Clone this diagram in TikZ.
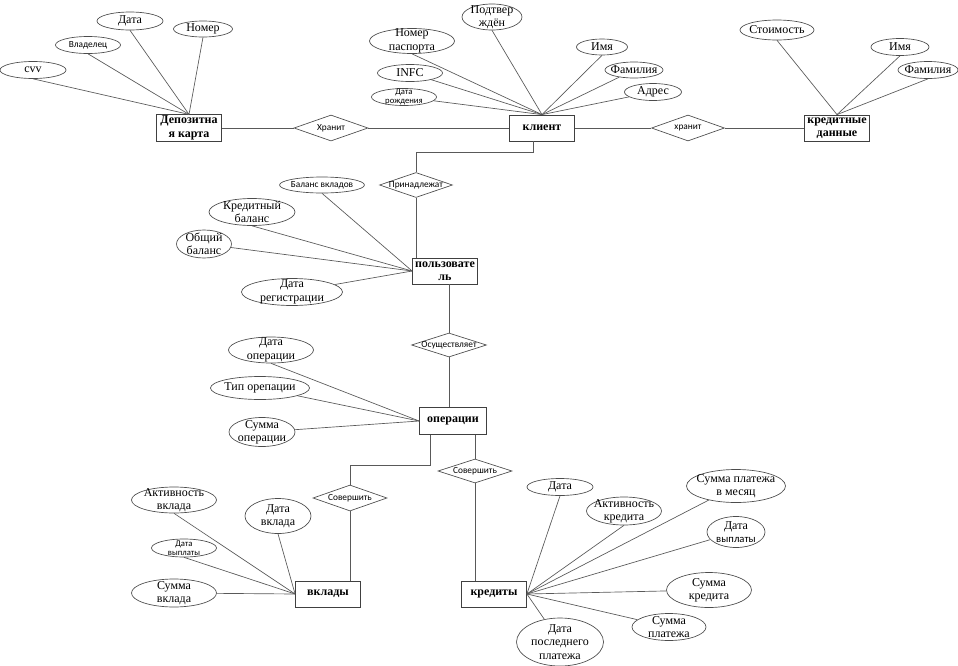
\documentclass[tikz,border=0pt]{standalone}
\usepackage{fontspec}
\setmainfont{Liberation Serif}
\newfontfamily\calfont{Carlito}
\usetikzlibrary{shapes.geometric}
\tikzset{
  ent/.style={draw=black!75, line width=0.6pt, rectangle, minimum width=65*0.75pt, minimum height=26*0.75pt, inner sep=1pt, font=\fontsize{9}{10}\selectfont\bfseries, align=center},
  attrshape/.style={draw=black!70, line width=0.5pt, ellipse, inner sep=0pt},
  relshape/.style={draw=black!70, line width=0.5pt, diamond, inner sep=0pt},
  txt/.style={font=\fontsize{9}{10}\selectfont, align=center, inner sep=0pt},
  stxt/.style={font=\calfont\fontsize{7}{7.5}\selectfont, align=center, inner sep=0pt},
  sstxt/.style={font=\calfont\fontsize{6.5}{7}\selectfont, align=center, inner sep=0pt},
  ln/.style={draw=black!65, line width=0.5pt},
}
\newcommand\attr[7]{%
  \node[attrshape, minimum width=#4*0.75pt, minimum height=#5*0.75pt] (#1) at (#2,#3) {};
  \node[#7] (#1t) at (#1) {#6};}
\newcommand\rel[6]{%
  \node[relshape, minimum width=#4*0.75pt, minimum height=#5*0.75pt] (#1) at (#2,#3) {};
  \node[stxt] (#1t) at (#1) {#6};}
\begin{document}
\begin{tikzpicture}[x=0.75pt,y=-0.75pt]
\path[use as bounding box, fill=white] (0,0) rectangle (958,665);

% entities
\node[ent] (dk) at (189,128) {Депозитна\\я карта};
\node[ent] (kl) at (542,128) {клиент};
\node[ent] (kd) at (837,128) {кредитные\\данные};
\node[ent] (pol) at (445,271) {пользовате\\ль};
\node[ent, minimum width=67*0.75pt, minimum height=27*0.75pt] (op) at (453,421) {операции};
\node[ent] (vk) at (328,594) {вклады};
\node[ent] (kr) at (494,594) {кредиты};

% relationships
\rel{hr1}{331}{128}{74}{26}{Хранит}
\rel{hr2}{688}{128}{73}{26}{хранит}
\rel{pr}{416}{185}{73}{25}{Принадлежат}
\rel{os}{449}{345}{75}{24}{Осуществляет}
\rel{svb}{475}{471}{74}{24}{Совершить}
\rel{sva}{350}{498}{74}{26}{Совершить}

% attributes of Депозитная карта
\attr{a1}{130}{21}{66}{18}{Дата}{txt}
\attr{a2}{203}{29}{59}{16}{Номер}{txt}
\attr{a3}{88}{45}{65}{17}{Владелец}{stxt}
\attr{a4}{33}{70}{66}{17}{cvv}{txt}
% attributes of клиент
\attr{b1}{492}{17}{60}{26}{Подтвер\\ждён}{txt}
\attr{b2}{412}{41}{85}{25}{Номер\\паспорта}{txt}
\attr{b3}{410}{73}{65}{17}{INFC}{txt}
\attr{b4}{404}{97}{65}{17}{Дата\\рождения}{sstxt}
\attr{b5}{602}{47}{51}{16}{Имя}{txt}
\attr{b6}{634}{70}{58}{16}{Фамилия}{txt}
\attr{b7}{653}{92}{57}{17}{Адрес}{txt}
% attributes of кредитные данные
\attr{c1}{777}{30}{74}{20}{Стоимость}{txt}
\attr{c2}{900}{47}{58}{17}{Имя}{txt}
\attr{c3}{928}{70}{60}{17}{Фамилия}{txt}
% attributes of пользователь
\attr{d1}{322}{185}{85}{16}{Баланс вкладов}{stxt}
\attr{d2}{252}{212}{86}{27}{Кредитный\\баланс}{txt}
\attr{d3}{204}{244}{55}{28}{Общий\\баланс}{txt}
\attr{d4}{292}{292}{101}{27}{Дата\\регистрации}{txt}
% attributes of операции
\attr{e1}{271}{350}{85}{26}{Дата\\операции}{txt}
\attr{e2}{260}{388}{99}{23}{Тип орепации}{txt}
\attr{e3}{262}{432}{66}{29}{Сумма\\операции}{txt}
% attributes of вклады
\attr{f1}{174}{500}{85}{26}{Активность\\вклада}{txt}
\attr{f2}{278}{516}{66}{35}{Дата\\вклада}{txt}
\attr{f3}{184}{548}{65}{18}{Дата\\выплаты}{sstxt}
\attr{f4}{174}{593}{85}{28}{Сумма\\вклада}{txt}
% attributes of кредиты
\attr{g1}{560}{487}{66}{17}{Дата}{txt}
\attr{g2}{624}{511}{75}{28}{Активность\\кредита}{txt}
\attr{g3}{736}{486}{99}{33}{Сумма платежа\\в месяц}{txt}
\attr{g4}{736}{532}{58}{31}{Дата\\{\calfont\fontsize{8}{9}\selectfont выплаты}}{txt}
\attr{g5}{709}{590}{85}{35}{Сумма\\кредита}{txt}
\attr{g6}{669}{627}{74}{27}{Сумма\\платежа}{txt}
\attr{g7}{560}{642}{87}{48}{Дата\\последнего\\платежа}{txt}

% relationship connectors
\draw[ln] (dk.east) -- (hr1.west);
\draw[ln] (hr1.east) -- (kl.west);
\draw[ln] (kl.east) -- (hr2.west);
\draw[ln] (hr2.east) -- (kd.west);
\draw[ln] ([xshift=-9*0.75pt]kl.south) -- ++(0,11) -| (pr.north);
\draw[ln] (pr.south) -- (pr.south |- pol.north);
\draw[ln] (os.north) -- (os.north |- pol.south);
\draw[ln] (os.south) -- (os.south |- op.north);
\draw[ln] (svb.north) -- (svb.north |- op.south);
\draw[ln] (svb.south) -- (svb.south |- kr.north);
\draw[ln] ([xshift=-23*0.75pt]op.south) -- ++(0,30) -| (sva.north);
\draw[ln] (sva.south) -- (sva.south |- vk.north);

% attribute connectors
\foreach \n in {a1,a2,a3,a4} \draw[ln] (\n.south) -- (dk.north);
\foreach \n in {b1,b2,b5} \draw[ln] (\n.south) -- (kl.north);
\foreach \n in {b3,b4,b6,b7} \draw[ln] (\n) -- (kl.north);
\foreach \n in {c1,c2,c3} \draw[ln] (\n.south) -- (kd.north);
\foreach \n in {d1,d2} \draw[ln] (\n.south) -- (pol.west);
\foreach \n in {d3,d4} \draw[ln] (\n) -- (pol.west);
\draw[ln] (e1.south) -- (op.west);
\foreach \n in {e2,e3} \draw[ln] (\n) -- (op.west);
\foreach \n in {f1,f2,f3} \draw[ln] (\n.south) -- (vk.west);
\draw[ln] (f4) -- (vk.west);
\foreach \n in {g1,g2} \draw[ln] (\n.south) -- (kr.east);
\foreach \n in {g3,g4,g5,g6,g7} \draw[ln] (\n) -- (kr.east);
\end{tikzpicture}
\end{document}
